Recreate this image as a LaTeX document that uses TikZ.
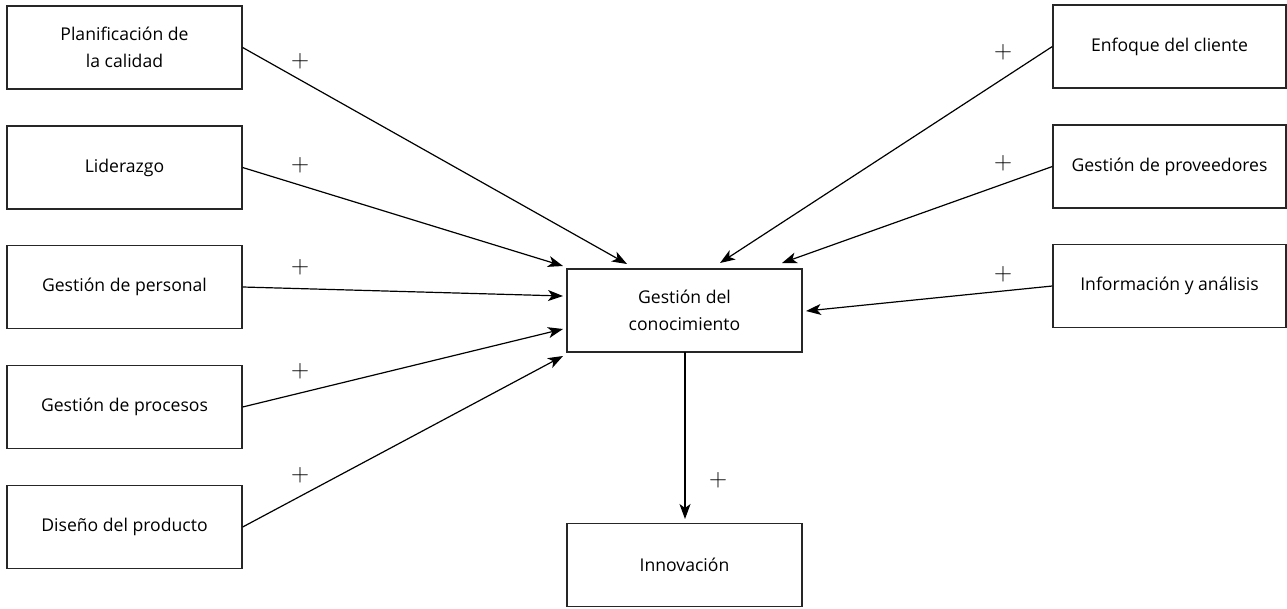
\documentclass[tikz,border=0pt]{standalone}
\usepackage{fontspec}
\setmainfont{Open Sans}
\newfontfamily\lmfont{Latin Modern Roman}
\usetikzlibrary{arrows.meta}
\begin{document}
\begin{tikzpicture}[x=1pt,y=-1pt,
  box/.style={draw=black!85,line width=1.3pt,minimum width=235pt,minimum height=83pt,inner sep=0pt,align=center,font=\fontsize{17.6}{27}\selectfont},
  conn/.style={line width=1.2pt,-{Stealth[length=15pt,width=11pt,inset=4pt]}},
  plus/.style={inner sep=0pt,font=\fontsize{25}{25}\selectfont\lmfont}]
\useasboundingbox (0,0) rectangle (1287,608);
\node[box] (L1) at (124.5,47.5) {Planificación de\\la calidad};
\node[box] (L2) at (124.5,167.5) {Liderazgo};
\node[box] (L3) at (124.5,287) {Gestión de personal};
\node[box] (L4) at (124.5,407) {Gestión de procesos};
\node[box] (L5) at (124.5,527) {Diseño del producto};
\node[box,minimum width=233pt] (R1) at (1169.5,46.5) {Enfoque del cliente};
\node[box,minimum width=233pt] (R2) at (1169.5,166.5) {Gestión de proveedores};
\node[box,minimum width=233pt] (R3) at (1169.5,286) {Información y análisis};
\node[box] (K) at (684.5,310.5) {Gestión del\\conocimiento};
\node[box] (I) at (684.5,565) {Innovación};
\coordinate (a1) at (627,264);
\coordinate (a2) at (563,266);
\coordinate (a3) at (563,296);
\coordinate (a4) at (563,329);
\coordinate (a5) at (563,356);
\coordinate (b1) at (720,263);
\coordinate (b2) at (782,263);
\coordinate (b3) at (806,311);
\coordinate (d1) at (685,352);
\coordinate (d2) at (685,519);
\draw[conn] (L1.east) -- (a1);
\draw[conn] (L2.east) -- (a2);
\draw[conn] (L3.east) -- (a3);
\draw[conn] (L4.east) -- (a4);
\draw[conn] (L5.east) -- (a5);
\draw[conn] (R1.west) -- (b1);
\draw[conn] (R2.west) -- (b2);
\draw[conn] (R3.west) -- (b3);
\draw[conn] (d1) -- (d2);
\node[plus] (p1) at (300,61) {+};
\node[plus] (p2) at (300,165) {+};
\node[plus] (p3) at (300,267) {+};
\node[plus] (p4) at (300,371) {+};
\node[plus] (p5) at (300,475) {+};
\node[plus] (q1) at (1003,52) {+};
\node[plus] (q2) at (1003,163) {+};
\node[plus] (q3) at (1003,274) {+};
\node[plus] (q4) at (718,480) {+};
\end{tikzpicture}
\end{document}
